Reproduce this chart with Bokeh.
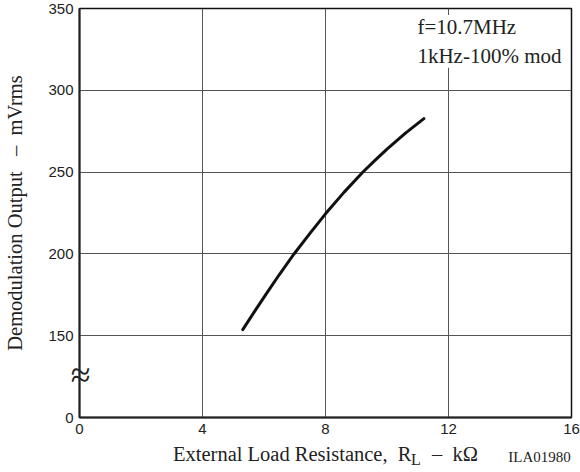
from bokeh.plotting import figure
from bokeh.models import Range1d, FixedTicker, Label, LinearAxis
from bokeh.embed import file_html
from bokeh.resources import INLINE

# Data
load_resistance_kohm = [5.31, 5.7, 6.1, 6.5, 6.97, 7.5, 8.0, 8.6, 9.21, 9.6, 10.0, 10.6, 11.2]
demod_output_mvrms = [153.7, 165.0, 176.3, 187.4, 199.8, 212.7, 224.5, 237.6, 249.9, 257.0, 264.0, 273.8, 282.7]

x_ticks = [0, 4, 8, 12, 16]
y_ticks = [100, 150, 200, 250, 300, 350]          # 100 position carries the "0" label (axis break)
y_tick_labels = {100: "0", 150: "150", 200: "200", 250: "250", 300: "300", 350: "350"}

NB = "\u00a0"
y_title = "Demodulation Output" + NB * 3 + "–" + NB * 2 + "mVrms"
x_title = "External Load Resistance, " + NB + "R" + "\u2003" + "–" + NB * 2 + "kΩ"
x_title_sub = "L"
figure_code = "ILA01980"
note_text = "f=10.7MHz\n1kHz-100% mod"
break_mark = "≈"

SERIF = "Liberation Serif"
SANS = "Liberation Sans"
INK = "#222222"

p = figure(width=580, height=472, output_backend="svg", toolbar_location=None,
           x_range=Range1d(0, 16), y_range=Range1d(100, 350))
p.min_border_left = 79
p.min_border_right = 9
p.min_border_top = 8
p.min_border_bottom = 55

p.outline_line_color = "#111111"
p.outline_line_width = 1.5
p.background_fill_color = "white"
p.border_fill_color = "white"


def plain(ax):
    ax.major_tick_in = 0
    ax.major_tick_out = 0
    ax.minor_tick_in = 0
    ax.minor_tick_out = 0


xax = p.xaxis[0]
yax = p.yaxis[0]
for ax in (xax, yax):
    plain(ax)
    ax.major_label_text_font = SANS
    ax.major_label_text_font_size = "15px"
    ax.major_label_text_color = INK
    ax.axis_label_text_font = SERIF
    ax.axis_label_text_font_size = "20.5px"
    ax.axis_label_text_font_style = "normal"
    ax.axis_label_text_color = INK

xax.axis_line_color = INK
xax.axis_line_width = 2
xax.ticker = FixedTicker(ticks=x_ticks)
xax.major_label_standoff = 6
xax.axis_label = x_title
xax.axis_label_standoff = 6

yax.axis_line_color = None
yax.ticker = FixedTicker(ticks=y_ticks)
yax.major_label_overrides = dict(y_tick_labels)
yax.major_label_standoff = -6
yax.axis_label = y_title
yax.axis_label_standoff = 19

p.xgrid[0].ticker = FixedTicker(ticks=[4, 8, 12])
p.ygrid[0].ticker = FixedTicker(ticks=[150, 200, 250, 300])
for g in (p.xgrid[0], p.ygrid[0]):
    g.grid_line_color = "#555555"
    g.grid_line_width = 1

p.line(load_resistance_kohm, demod_output_mvrms, line_color="#111111", line_width=3,
       line_join="round", line_cap="round")

# visible y axis line with the axis-break mark straddling it (innermost left panel)
brk = LinearAxis(ticker=FixedTicker(ticks=[126.0]), major_label_overrides={126.0: break_mark})
plain(brk)
brk.axis_line_color = INK
brk.axis_line_width = 2
brk.major_label_text_font = SERIF
brk.major_label_text_font_size = "36px"
brk.major_label_text_color = INK
brk.major_label_standoff = -11
p.left = [brk] + list(p.left)

# subscript L on a helper axis below the x-axis title
sub = LinearAxis(ticker=FixedTicker(ticks=[10.94]), major_label_overrides={10.94: x_title_sub})
plain(sub)
sub.axis_line_color = None
sub.major_label_text_font = SERIF
sub.major_label_text_font_size = "16px"
sub.major_label_text_color = INK
sub.major_label_standoff = -17
p.add_layout(sub, "below")

# figure code on another helper axis
code = LinearAxis(ticker=FixedTicker(ticks=[14.96]), major_label_overrides={14.96: figure_code})
plain(code)
code.axis_line_color = None
code.major_label_text_font = SERIF
code.major_label_text_font_size = "15px"
code.major_label_text_color = INK
code.major_label_standoff = -22
p.add_layout(code, "below")

# condition note
p.add_layout(Label(x=10.99, y=346.1, text=note_text, text_font=SERIF,
                   text_font_size="21px", text_align="left", text_baseline="top",
                   text_color=INK, background_fill_color="white",
                   background_fill_alpha=1.0))

open("out.html", "w").write(file_html(p, INLINE))
